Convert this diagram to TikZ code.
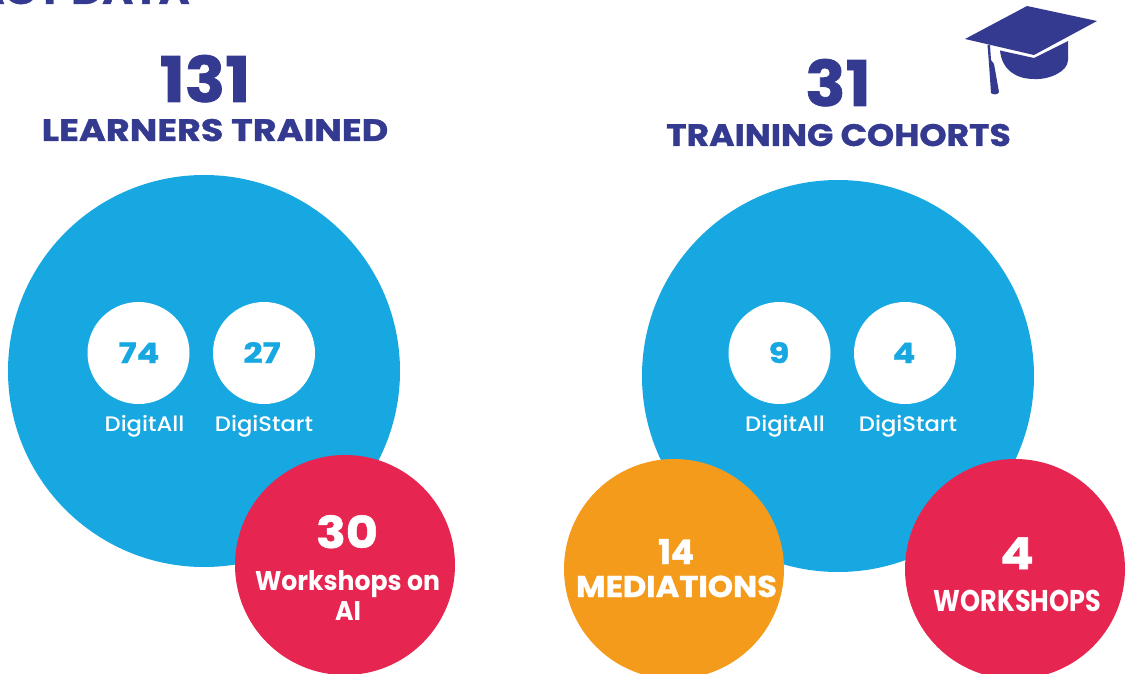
\documentclass[tikz,border=0pt]{standalone}
\usepackage{fontspec}
\setmainfont{Poppins}
\newfontfamily\heavy[FakeBold=1.2]{Poppins Bold}
\newfontfamily\wide[FakeBold=1.2,FakeStretch=1.18]{Poppins Bold}
\newfontfamily\widec[FakeBold=1.2,FakeStretch=1.115]{Poppins Bold}
\newfontfamily\numw[FakeBold=1.2,FakeStretch=1.2]{Poppins Bold}
\newfontfamily\numm[FakeBold=1.2,FakeStretch=1.12]{Poppins Bold}
\newfontfamily\numb[FakeBold=1.2,FakeStretch=1.06]{Poppins Bold}
\newfontfamily\medw[FakeBold=1.2,FakeStretch=1.07]{Poppins Bold}
\newfontfamily\slim[FakeStretch=0.85]{Poppins Bold}
\newfontfamily\slimb[FakeStretch=0.93]{Poppins Bold}
\newfontfamily\medf[FakeStretch=1.08]{Poppins Medium}
\definecolor{navy}{HTML}{343A90}
\definecolor{skyb}{HTML}{17A8E2}
\definecolor{crim}{HTML}{E62650}
\definecolor{oran}{HTML}{F49B1B}
\tikzset{
 disc/.style={circle,inner sep=0pt,minimum size=#1},
 bignum/.style={text=navy,font=\numb\fontsize{63}{63}\selectfont,inner sep=0pt,anchor=base},
 head/.style={text=navy,font=\wide\fontsize{31}{31}\selectfont,inner sep=0pt,anchor=base},
 innum/.style={text=skyb,font=\numw\fontsize{28}{28}\selectfont,inner sep=0pt,anchor=base},
 lab/.style={text=white,font=\medf\fontsize{21}{21}\selectfont,inner sep=0pt,anchor=base},
 whnum/.style={text=white,font=\numm\fontsize{44}{44}\selectfont,inner sep=0pt,anchor=base},
 whlab/.style={text=white,font=\slimb\fontsize{27}{27}\selectfont,inner sep=0pt,anchor=base},
}
\begin{document}
\begin{tikzpicture}[x=1pt,y=-1pt]
\useasboundingbox (0,0) rectangle (1130,674);
\clip (0,0) rectangle (1130,674);
\node[text=navy,font=\wide\fontsize{36}{36}\selectfont,inner sep=0pt,anchor=base east] (top) at (190,4) {IMPACT DATA};
\node[bignum] (n131) at (205,102) {131};
\node[head] (lt) at (215,141) {LEARNERS TRAINED};
\node[bignum] (n31) at (838,106) {31};
\node[head,font=\widec\fontsize{31}{31}\selectfont] (tc) at (838.5,146) {TRAINING COHORTS};
\node[disc=392pt,fill=skyb] (bl) at (204,371) {};
\node[disc=392pt,fill=skyb] (br) at (838,376) {};
\node[disc=102pt,fill=white] (a1) at (138.5,353) {};
\node[disc=102pt,fill=white] (a2) at (264,353) {};
\node[disc=102pt,fill=white] (b1) at (779.5,353) {};
\node[disc=102pt,fill=white] (b2) at (905,353) {};
\node[innum] (t74) at (139,363) {74};
\node[innum] (t27) at (262,363) {27};
\node[innum] (t9) at (779,363) {9};
\node[innum] (t4) at (904,363) {4};
\node[lab] (c1) at (144.5,431) {DigitAll};
\node[lab] (c2) at (264,431) {DigiStart};
\node[lab] (c3) at (785,431) {DigitAll};
\node[lab] (c4) at (908,431) {DigiStart};
\node[disc=220pt,fill=crim] (r1) at (345,565) {};
\node[disc=220pt,fill=oran] (o1) at (674,569) {};
\node[disc=220pt,fill=crim] (r2) at (1015,569) {};
\node[whnum] (w30) at (347,548) {30};
\node[whlab] (w1) at (347.5,590) {Workshops on};
\node[whlab] (w2) at (348,620) {AI};
\node[text=white,font=\heavy\fontsize{34}{34}\selectfont,inner sep=0pt,anchor=base] (w14) at (676,564) {14};
\node[text=white,font=\medw\fontsize{30}{30}\selectfont,inner sep=0pt,anchor=base] (wm) at (676.5,597) {MEDIATIONS};
\node[whnum] (w4) at (1017,569) {4};
\node[text=white,font=\slim\fontsize{30}{30}\selectfont,inner sep=0pt,anchor=base] (ww) at (1017.5,611) {WORKSHOPS};
% graduation cap
\fill[navy] (1000,50.5) -- (1034,58) -- (1068,41) -- (1068,60) .. controls (1068,72) and (1048,80) .. (1034,79) .. controls (1016,79) and (1002,70) .. (1000,50.5) -- cycle;
\fill[navy] (1027,6) -- (1097,21) -- (1034,55) -- (965,39) -- cycle;
\fill[navy] (987.5,45) -- (990,45) -- (991,60) -- (994,64) -- (999,92) .. controls (998,95) and (993,95) .. (991,93) -- (989,64) -- cycle;
\end{tikzpicture}
\end{document}
